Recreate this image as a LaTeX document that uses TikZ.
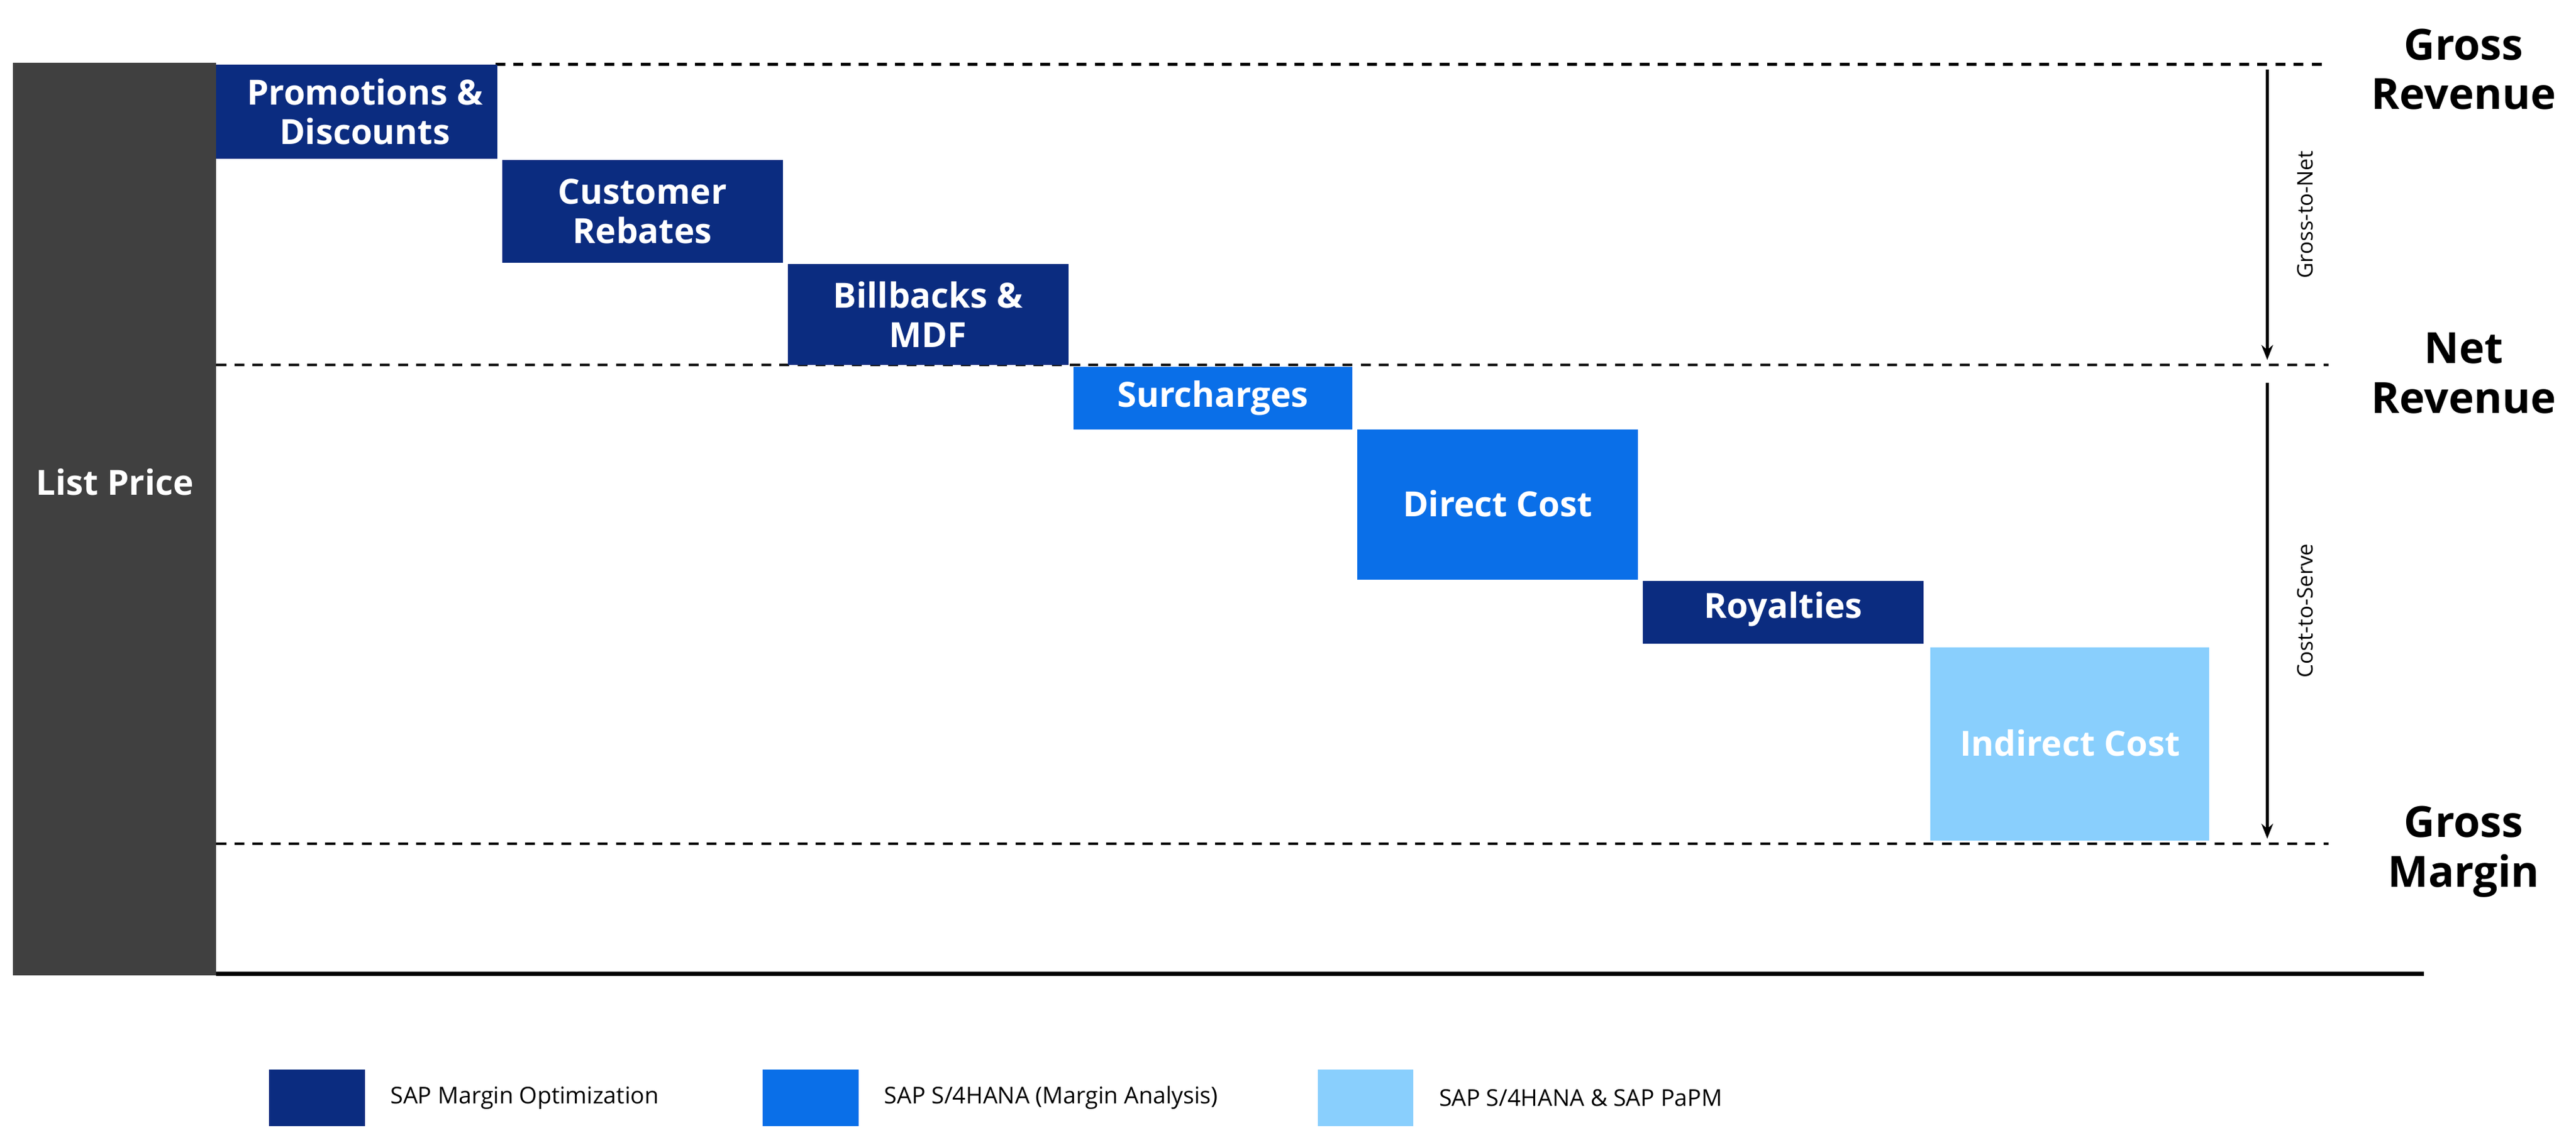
\documentclass[tikz,border=0pt]{standalone}
\usepackage{fontspec}
\setmainfont{Open Sans}
\usetikzlibrary{arrows.meta}
\definecolor{navy}{HTML}{0B2C80}
\definecolor{midblue}{HTML}{0A6FE8}
\definecolor{lightblue}{HTML}{89CFFD}
\definecolor{bargray}{HTML}{404040}
\begin{document}
\begin{tikzpicture}[x=1pt,y=-1pt,
  blk/.style={inner sep=0pt,align=center,text=white,font=\fontsize{21}{24}\selectfont\bfseries},
  dline/.style={dashed,line width=1.6pt,dash pattern=on 6pt off 5pt},
  rlab/.style={align=center,font=\fontsize{26}{30}\selectfont\bfseries},
  leg/.style={anchor=west,font=\fontsize{14}{16}\selectfont},
  vlab/.style={rotate=90,font=\fontsize{13}{15}\selectfont}]
\useasboundingbox (0,0) rectangle (1560,683);
\fill[bargray] (8,38) rectangle (131,591);
\node[blk] (lp) at (69.5,292) {List Price};
\draw[line width=2.5pt] (131,590) -- (1468,590);
\draw[dline] (300,39) -- (1410,39);
\draw[dline] (131,221) -- (1410,221);
\draw[dline] (131,511) -- (1410,511);
\fill[navy] (131,39) rectangle (301,96);
\node[blk] (pd) at (221,67.5) {Promotions \&\\Discounts};
\fill[navy] (304,97) rectangle (474,159);
\node[blk] (cr) at (389,128) {Customer\\Rebates};
\fill[navy] (477,160) rectangle (647,221);
\node[blk] (bb) at (562,190.5) {Billbacks \&\\MDF};
\fill[midblue] (650,222) rectangle (819,260);
\node[blk] (sc) at (734.5,241) {Surcharges};
\fill[midblue] (822,260) rectangle (992,351);
\node[blk] (dc) at (907,305) {Direct Cost};
\fill[navy] (995,352) rectangle (1165,390);
\node[blk] (ry) at (1080,369) {Royalties};
\fill[lightblue] (1169,392) rectangle (1338,509);
\node[blk] (ic) at (1253.5,450) {Indirect Cost};
\coordinate (a1) at (1373,42); \coordinate (a2) at (1373,218);
\coordinate (b1) at (1373,232); \coordinate (b2) at (1373,508);
\draw[line width=1.6pt,-{Stealth[length=9pt,width=7pt]}] (a1) -- (a2);
\draw[line width=1.6pt,-{Stealth[length=9pt,width=7pt]}] (b1) -- (b2);
\node[vlab] (gtn) at (1396,130) {Gross-to-Net};
\node[vlab] (cts) at (1396,370) {Cost-to-Serve};
\node[rlab] (gr) at (1492,42) {Gross\\Revenue};
\node[rlab] (nr) at (1492,226) {Net\\Revenue};
\node[rlab] (gm) at (1492,516) {Gross\\Margin};
\fill[navy] (163,648) rectangle (221,682);
\node[leg] (l1) at (233,665) {SAP Margin Optimization};
\fill[midblue] (462,648) rectangle (520,682);
\node[leg] (l2) at (532,665) {SAP S/4HANA (Margin Analysis)};
\fill[lightblue] (798,648) rectangle (856,682);
\node[leg] (l3) at (868,665) {SAP S/4HANA \& SAP PaPM};
\end{tikzpicture}
\end{document}
